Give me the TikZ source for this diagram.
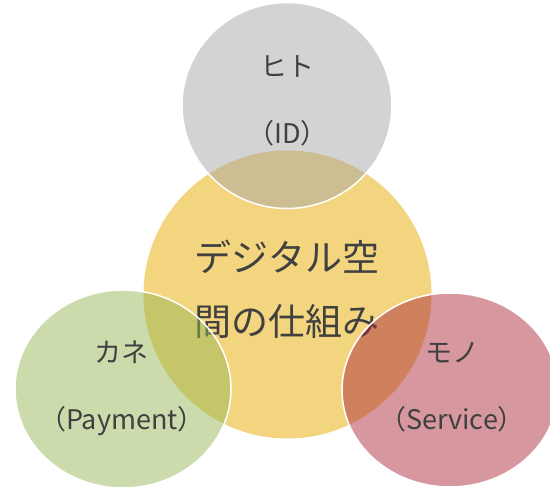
\documentclass[tikz,border=0pt]{standalone}
\usepackage{fontspec}
\setmainfont{Noto Sans CJK JP}
\definecolor{amarillo}{RGB}{242,213,126}
\definecolor{gris}{RGB}{167,167,167}
\definecolor{verde}{RGB}{153,183,87}
\definecolor{rojo}{RGB}{173,47,61}
\definecolor{texto}{RGB}{64,64,64}
\tikzset{
  anillo/.style={draw=white, line width=1.5pt, fill opacity=0.5},
  etiqueta/.style={text=texto, font=\fontsize{27}{67}\selectfont, align=center},
  titulo/.style={text=texto, font=\fontsize{37}{64}\selectfont, align=center}
}
\begin{document}
\begin{tikzpicture}[x=1pt,y=-1pt]
\useasboundingbox (0,0) rectangle (550,489);
% Centro
\fill[amarillo] (287.5,294.5) circle (144);
\node[titulo] (centro) at (287,289) {デジタル空\\間の仕組み};
% Circulos
\path[anillo, fill=gris] (287,105.5) ellipse (105 and 103);
\path[anillo, fill=verde] (123,389) ellipse (108 and 99);
\path[anillo, fill=rojo] (450,390) ellipse (108 and 97);
% Etiquetas
\node[etiqueta] (hito) at (287.5,101) {ヒト\\（ID）};
\node[etiqueta] (kane) at (122,388) {カネ\\（Payment）};
\node[etiqueta] (mono) at (452,387) {モノ\\（Service）};
\end{tikzpicture}
\end{document}
